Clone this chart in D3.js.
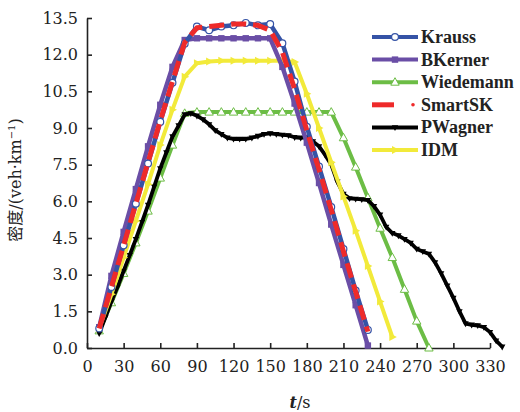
<!DOCTYPE html>
<html>
<head>
<meta charset="utf-8">
<script src="https://cdn.jsdelivr.net/npm/d3@7"></script>
<style>
  body { margin: 0; background: #fff; }
  svg { display: block; }
</style>
</head>
<body>
<div id="chart"></div>
<script>
// time (s) and density values
const t10 = [10, 20, 30, 40, 50, 60, 70, 80, 90, 100, 110, 120, 130, 140, 150, 160, 170, 180, 190, 200, 210, 220, 230]
const krauss = [0.8, 2.5, 4.2, 5.9, 7.55, 9.25, 10.85, 12.45, 13.15, 13.0, 13.15, 13.2, 13.3, 13.2, 13.25, 12.47, 10.9, 9.05, 7.42, 5.77, 4.05, 2.35, 0.74]
const bkerner = [0.85, 2.95, 4.75, 6.5, 8.25, 9.95, 11.5, 12.6, 12.67, 12.67, 12.67, 12.67, 12.67, 12.67, 12.67, 11.5, 10.0, 8.4, 6.75, 5.05, 3.4, 1.75, 0.1]
const smartsk = [0.8, 2.5, 4.2, 5.9, 7.6, 9.3, 10.9, 12.5, 13.1, 13.15, 13.2, 13.25, 13.25, 13.2, 13.0, 12.1, 10.6, 8.9, 7.3, 5.65, 3.95, 2.3, 0.67]

const tW = [10, 20, 30, 40, 50, 60, 70, 80, 90, 100, 110, 120, 130, 140, 150, 160, 170, 180, 190, 200, 210, 220, 230, 240, 250, 260, 270, 280]
const wiedemann = [0.7, 1.85, 3.05, 4.3, 5.6, 6.95, 8.3, 9.6, 9.65, 9.65, 9.65, 9.65, 9.65, 9.65, 9.65, 9.65, 9.65, 9.65, 9.65, 9.65, 8.6, 7.4, 6.15, 4.9, 3.7, 2.4, 1.1, 0.0]

const tI = [10, 20, 30, 40, 50, 60, 70, 80, 90, 100, 110, 120, 130, 140, 150, 160, 170, 180, 190, 200, 210, 220, 230, 240, 250]
const idm = [0.8, 2.2, 3.7, 5.2, 6.7, 8.3, 9.75, 11.1, 11.65, 11.72, 11.75, 11.75, 11.75, 11.75, 11.75, 11.75, 11.7, 10.4, 9.0, 7.6, 6.2, 4.8, 3.35, 1.9, 0.45]

const tP = [10, 15, 20, 25, 30, 35, 40, 45, 50, 55, 60, 65, 70, 75, 80, 85, 90, 95, 100, 105, 110, 115, 120, 125, 130, 135, 140, 145, 150, 155, 160, 165, 170, 175, 180, 185, 190, 195, 200, 205, 210, 215, 220, 225, 230, 235, 240, 245, 250, 255, 260, 265, 270, 275, 280, 285, 290, 295, 300, 305, 310, 315, 320, 325, 330, 335, 340]
const pwagner = [0.6, 1.25, 1.9, 2.5, 3.15, 3.8, 4.45, 5.15, 5.85, 6.6, 7.35, 8.0, 8.65, 9.1, 9.55, 9.6, 9.5, 9.35, 9.15, 8.9, 8.75, 8.6, 8.55, 8.55, 8.55, 8.6, 8.67, 8.75, 8.78, 8.75, 8.72, 8.7, 8.62, 8.6, 8.62, 8.45, 8.25, 7.9, 7.5, 6.8, 6.3, 6.12, 6.1, 6.08, 6.05, 5.8, 5.45, 4.95, 4.7, 4.6, 4.45, 4.3, 4.05, 3.95, 3.85, 3.5, 3.05, 2.55, 2.05, 1.5, 1.0, 0.95, 0.92, 0.85, 0.65, 0.3, 0.05]

const xTicks = [0, 30, 60, 90, 120, 150, 180, 210, 240, 270, 300, 330]
const yTicks = [0, 1.5, 3, 4.5, 6, 7.5, 9, 10.5, 12, 13.5]

const width = 520, height = 412
const serif = '"DejaVu Serif", serif'

const svg = d3.select('#chart').append('svg')
  .attr('width', width)
  .attr('height', height)

const x = d3.scaleLinear().domain([0, 330]).range([87, 490])
const y = d3.scaleLinear().domain([0, 13.5]).range([348, 18])

// axes, ticks pointing inside
const xAxis = svg.append('g')
  .attr('transform', `translate(0, ${y(0)})`)
  .call(d3.axisBottom(x).tickValues(xTicks).tickSizeInner(-5).tickSizeOuter(0).tickPadding(13).tickFormat(d3.format('d')))
const yAxis = svg.append('g')
  .attr('transform', `translate(${x(0)}, 0)`)
  .call(d3.axisLeft(y).tickValues(yTicks).tickSizeInner(-5).tickSizeOuter(0).tickPadding(9).tickFormat(d3.format('.1f')))

;[xAxis, yAxis].forEach(g => {
  g.selectAll('path, line').attr('stroke', '#222').attr('stroke-width', 1.6)
  g.selectAll('text').attr('fill', '#222').style('font-family', serif).style('font-size', '16px')
})

const series = [
  {name: 'Wiedemann', t: tW, v: wiedemann, color: '#6cbd45', w: 4, marker: 'triUp'},
  {name: 'PWagner', t: tP, v: pwagner, color: '#000', w: 3.8, marker: 'triDown'},
  {name: 'IDM', t: tI, v: idm, color: '#f2ea3a', w: 4, marker: 'triRight'},
  {name: 'BKerner', t: t10, v: bkerner, color: '#6a4ea6', w: 4.5, marker: 'square'},
  {name: 'Krauss', t: t10, v: krauss, color: '#3553a6', w: 4.5, marker: 'circle'},
  {name: 'SmartSK', t: t10, v: smartsk, color: '#ee2a2a', w: 5, marker: null, dash: '15,7'}
]

const line = d3.line().x(d => x(d[0])).y(d => y(d[1]))

function drawMarker(g, m, color, cx, cy) {
  if (m === 'circle') {
    g.append('circle').attr('cx', cx).attr('cy', cy).attr('r', 3.4)
      .attr('fill', '#fff').attr('stroke', color).attr('stroke-width', 1.2)
  } else if (m === 'square') {
    g.append('rect').attr('x', cx - 3.2).attr('y', cy - 3.2).attr('width', 6.4).attr('height', 6.4)
      .attr('fill', color)
  } else if (m === 'triUp') {
    g.append('path').attr('d', `M${cx},${cy - 4.5}L${cx + 4.2},${cy + 3}L${cx - 4.2},${cy + 3}Z`)
      .attr('fill', '#fff').attr('stroke', color).attr('stroke-width', 1)
  } else if (m === 'triDown') {
    g.append('path').attr('d', `M${cx},${cy + 3.6}L${cx + 3.2},${cy - 2.2}L${cx - 3.2},${cy - 2.2}Z`)
      .attr('fill', color)
  } else if (m === 'triRight') {
    g.append('path').attr('d', `M${cx + 4.5},${cy}L${cx - 3},${cy - 4}L${cx - 3},${cy + 4}Z`)
      .attr('fill', color)
  }
}

const plot = svg.append('g')
series.forEach(s => {
  const pts = s.t.map((t, i) => [t, s.v[i]])
  const g = plot.append('g')
  g.append('path')
    .datum(pts)
    .attr('d', line)
    .attr('fill', 'none')
    .attr('stroke', s.color)
    .attr('stroke-width', s.w)
    .attr('stroke-linejoin', 'round')
    .attr('stroke-dasharray', s.dash || null)
  if (s.marker) pts.forEach(p => drawMarker(g, s.marker, s.color, x(p[0]), y(p[1])))
})

// legend
const legendOrder = ['Krauss', 'BKerner', 'Wiedemann', 'SmartSK', 'PWagner', 'IDM']
const legend = svg.append('g')
legendOrder.forEach((name, i) => {
  const s = series.find(d => d.name === name)
  const ly = 37 + i * 22.6
  const g = legend.append('g')
  if (name === 'SmartSK') {
    g.append('line').attr('x1', 372).attr('x2', 394).attr('y1', ly).attr('y2', ly)
      .attr('stroke', s.color).attr('stroke-width', s.w)
    g.append('circle').attr('cx', 413).attr('cy', ly).attr('r', 1.8).attr('fill', s.color)
  } else {
    g.append('line').attr('x1', 372).attr('x2', 418).attr('y1', ly).attr('y2', ly)
      .attr('stroke', s.color).attr('stroke-width', 4)
    drawMarker(g, s.marker, s.color, 395, ly)
  }
  g.append('text')
    .attr('x', 421).attr('y', ly + 6)
    .style('font-family', '"Liberation Serif", serif')
    .style('font-weight', 'bold')
    .style('font-size', '18px')
    .attr('fill', '#222')
    .text(name)
})

// axis titles
const xt = svg.append('text')
  .attr('x', 300).attr('y', 408)
  .attr('text-anchor', 'middle')
  .style('font-family', serif).style('font-size', '16px').attr('fill', '#222')
xt.append('tspan').style('font-style', 'italic').style('font-weight', 'bold').text('t')
xt.append('tspan').text('/s')

const yt = svg.append('text')
  .attr('transform', 'translate(21, 180) rotate(-90)')
  .attr('text-anchor', 'middle')
  .style('font-family', serif).style('font-size', '16px').attr('fill', '#222')
yt.append('tspan').style('font-family', '"Noto Sans CJK SC", sans-serif').text('密度')
yt.append('tspan').text('/(veh·km')
yt.append('tspan').attr('dy', -6).style('font-size', '10px').text('−1')
yt.append('tspan').attr('dy', 6).text(')')
</script>
</body>
</html>
